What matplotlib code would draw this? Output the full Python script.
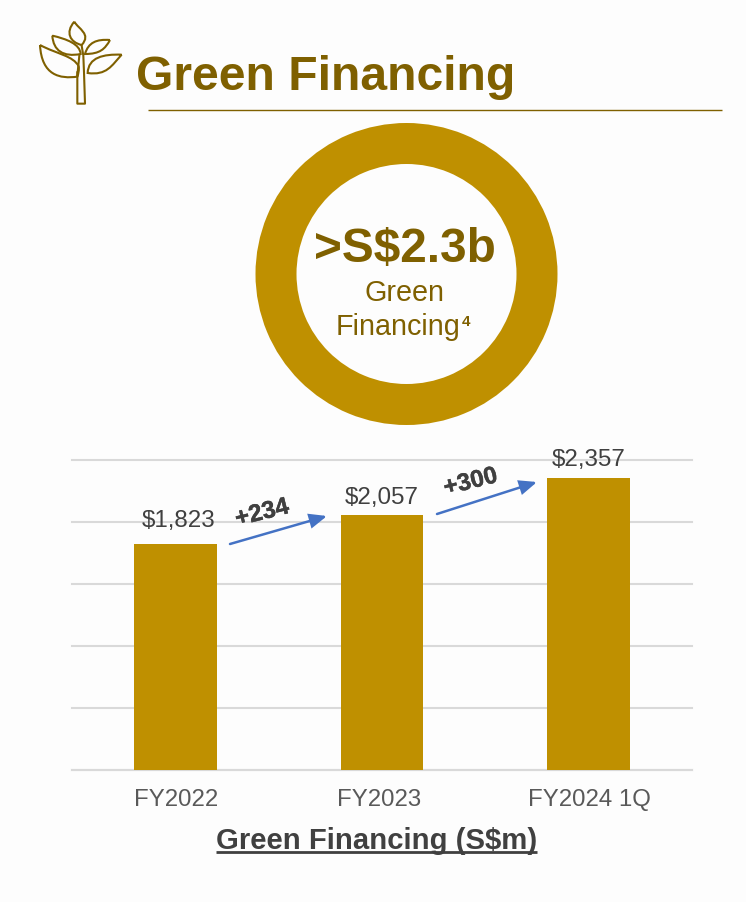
import matplotlib
matplotlib.use('Agg')
import matplotlib.pyplot as plt
import matplotlib.patheffects as pe
from matplotlib.patches import Wedge, PathPatch
from matplotlib.path import Path
from matplotlib.transforms import ScaledTranslation

plt.rcParams['font.family'] = ['Liberation Sans', 'DejaVu Sans']

categories = ['FY2022', 'FY2023', 'FY2024 1Q']
values = [1823, 2057, 2357]
value_labels = ['$1,823', '$2,057', '$2,357']
y_ticks = [0, 500, 1000, 1500, 2000, 2500]

GOLD = '#BF9000'
BROWN = '#7F6000'
GREY = '#404040'
BG = '#FDFDFD'
W, H = 746, 903

fig = plt.figure(figsize=(W / 100, H / 100), dpi=100, facecolor=BG)

# chart axes, placed by pixels
ax = fig.add_axes([72 / W, 1 - 771 / H, 620 / W, 310 / H], facecolor='none')
x = range(len(categories))
ax.bar(x, values, width=0.4, color=GOLD, zorder=3)
ax.set_xlim(-0.5, 2.5)
ax.set_ylim(0, 2500)
ax.set_yticks(y_ticks)
ax.set_xticks(list(x))
ax.set_xticklabels(categories, fontsize=17.3, color='#595959')
ax.tick_params(axis='y', left=False, labelleft=False)
ax.tick_params(axis='x', bottom=False, pad=9.3)
ax.grid(axis='y', color='#D9D9D9', lw=1.5, zorder=0)
for gl in ax.get_ygridlines():
    gl.set_clip_on(False)
ax.set_axisbelow(True)
for s in ['top', 'left', 'right']:
    ax.spines[s].set_visible(False)
ax.spines['bottom'].set_color('#D9D9D9')
ax.spines['bottom'].set_linewidth(1.5)

# tick labels are not quite centred under the bars in the slide
tick_dx = [0.7, -1.8, 0.7]
for lab, dx in zip(ax.get_xticklabels(), tick_dx):
    lab.set_transform(lab.get_transform() + ScaledTranslation(dx / 72, 0, fig.dpi_scale_trans))

label_dx = [2, 0, 0]
label_pad = [9.5, 5, 5.5]
for i in x:
    ax.annotate(value_labels[i], (i, values[i]), xytext=(label_dx[i], label_pad[i]), textcoords='offset points',
                ha='center', va='bottom', fontsize=17.4, color=GREY, zorder=4)

# overlay in pixel coordinates for the slide furniture
ov = fig.add_axes([0, 0, 1, 1], facecolor='none')
ov.set_xlim(0, W)
ov.set_ylim(H, 0)
ov.axis('off')

ov.text(136, 78, 'Green Financing', fontsize=34.6, fontweight='bold', color=BROWN, ha='left', va='center')
ov.plot([148, 722], [111, 111], color=BROWN, lw=1, solid_capstyle='butt')

# ring
ov.add_patch(Wedge((406.5, 275), 151, 0, 360, width=41, color=GOLD, lw=0))
ov.text(405, 250, '>S$2.3b', fontsize=34.4, fontweight='bold', color=BROWN, ha='center', va='center')
ov.text(405, 293, 'Green', fontsize=20.7, color=BROWN, ha='center', va='center')
ov.text(336, 327, 'Financing', fontsize=20.7, color=BROWN, ha='left', va='center')
ov.text(462, 322, '4', fontsize=11, fontweight='bold', color=BROWN, ha='left', va='center')

# growth arrows
arrow = dict(arrowstyle='-|>,head_length=1.0,head_width=0.42', color='#4472C4', lw=1.8,
             shrinkA=0, shrinkB=0, mutation_scale=10, joinstyle='miter')
ov.annotate('', xy=(327, 517), xytext=(230, 545), arrowprops=arrow)
ov.annotate('', xy=(537, 483), xytext=(437, 515), arrowprops=arrow)
stroke = [pe.withStroke(linewidth=0.3, foreground=GREY)]
ov.text(262, 514, '+234', fontsize=17.5, fontweight='bold', color=GREY, rotation=14, ha='center', va='center',
        path_effects=stroke)
ov.text(470.5, 483, '+300', fontsize=17.5, fontweight='bold', color=GREY, rotation=14, ha='center', va='center',
        path_effects=stroke)

# caption with underline
ov.text(376.5, 841, 'Green Financing (S$m)', fontsize=21.1, fontweight='bold', color=GREY, ha='center', va='center')
ov.plot([216, 537], [853, 853], color=GREY, lw=2, solid_capstyle='butt')


# leaf logo, outline points taken from the zoomed crop
def to_px(pts):
    return [(20 + a / 3, 10 + b / 3) for a, b in pts]


def leaf(pts):
    codes = [Path.MOVETO] + [Path.CURVE4] * (len(pts) - 1)
    ov.add_patch(PathPatch(Path(to_px(pts), codes), fc='none', ec=BROWN, lw=1.5))


leaf([(60, 108), (110, 135), (160, 140), (176, 172), (178, 182), (175, 195), (172, 203),
      (120, 210), (65, 200), (60, 108)])
leaf([(97, 80), (140, 90), (180, 105), (182, 135), (130, 145), (100, 125), (97, 80)])
leaf([(163, 38), (175, 60), (215, 75), (185, 108), (150, 100), (135, 70), (163, 38)])
leaf([(270, 93), (230, 90), (205, 100), (195, 135), (240, 135), (255, 120), (270, 93)])
leaf([(305, 137), (250, 135), (205, 145), (203, 192), (260, 200), (275, 170), (305, 137)])
trunk = to_px([(172, 190), (172, 284), (195, 284), (192, 190), (190, 140), (185, 110)])
ov.plot([p[0] for p in trunk], [p[1] for p in trunk], color=BROWN, lw=1.5)
inner = to_px([(172, 200), (178, 140)])
ov.plot([p[0] for p in inner], [p[1] for p in inner], color=BROWN, lw=1.5)

fig.savefig('out.png', dpi=100, facecolor=BG)
